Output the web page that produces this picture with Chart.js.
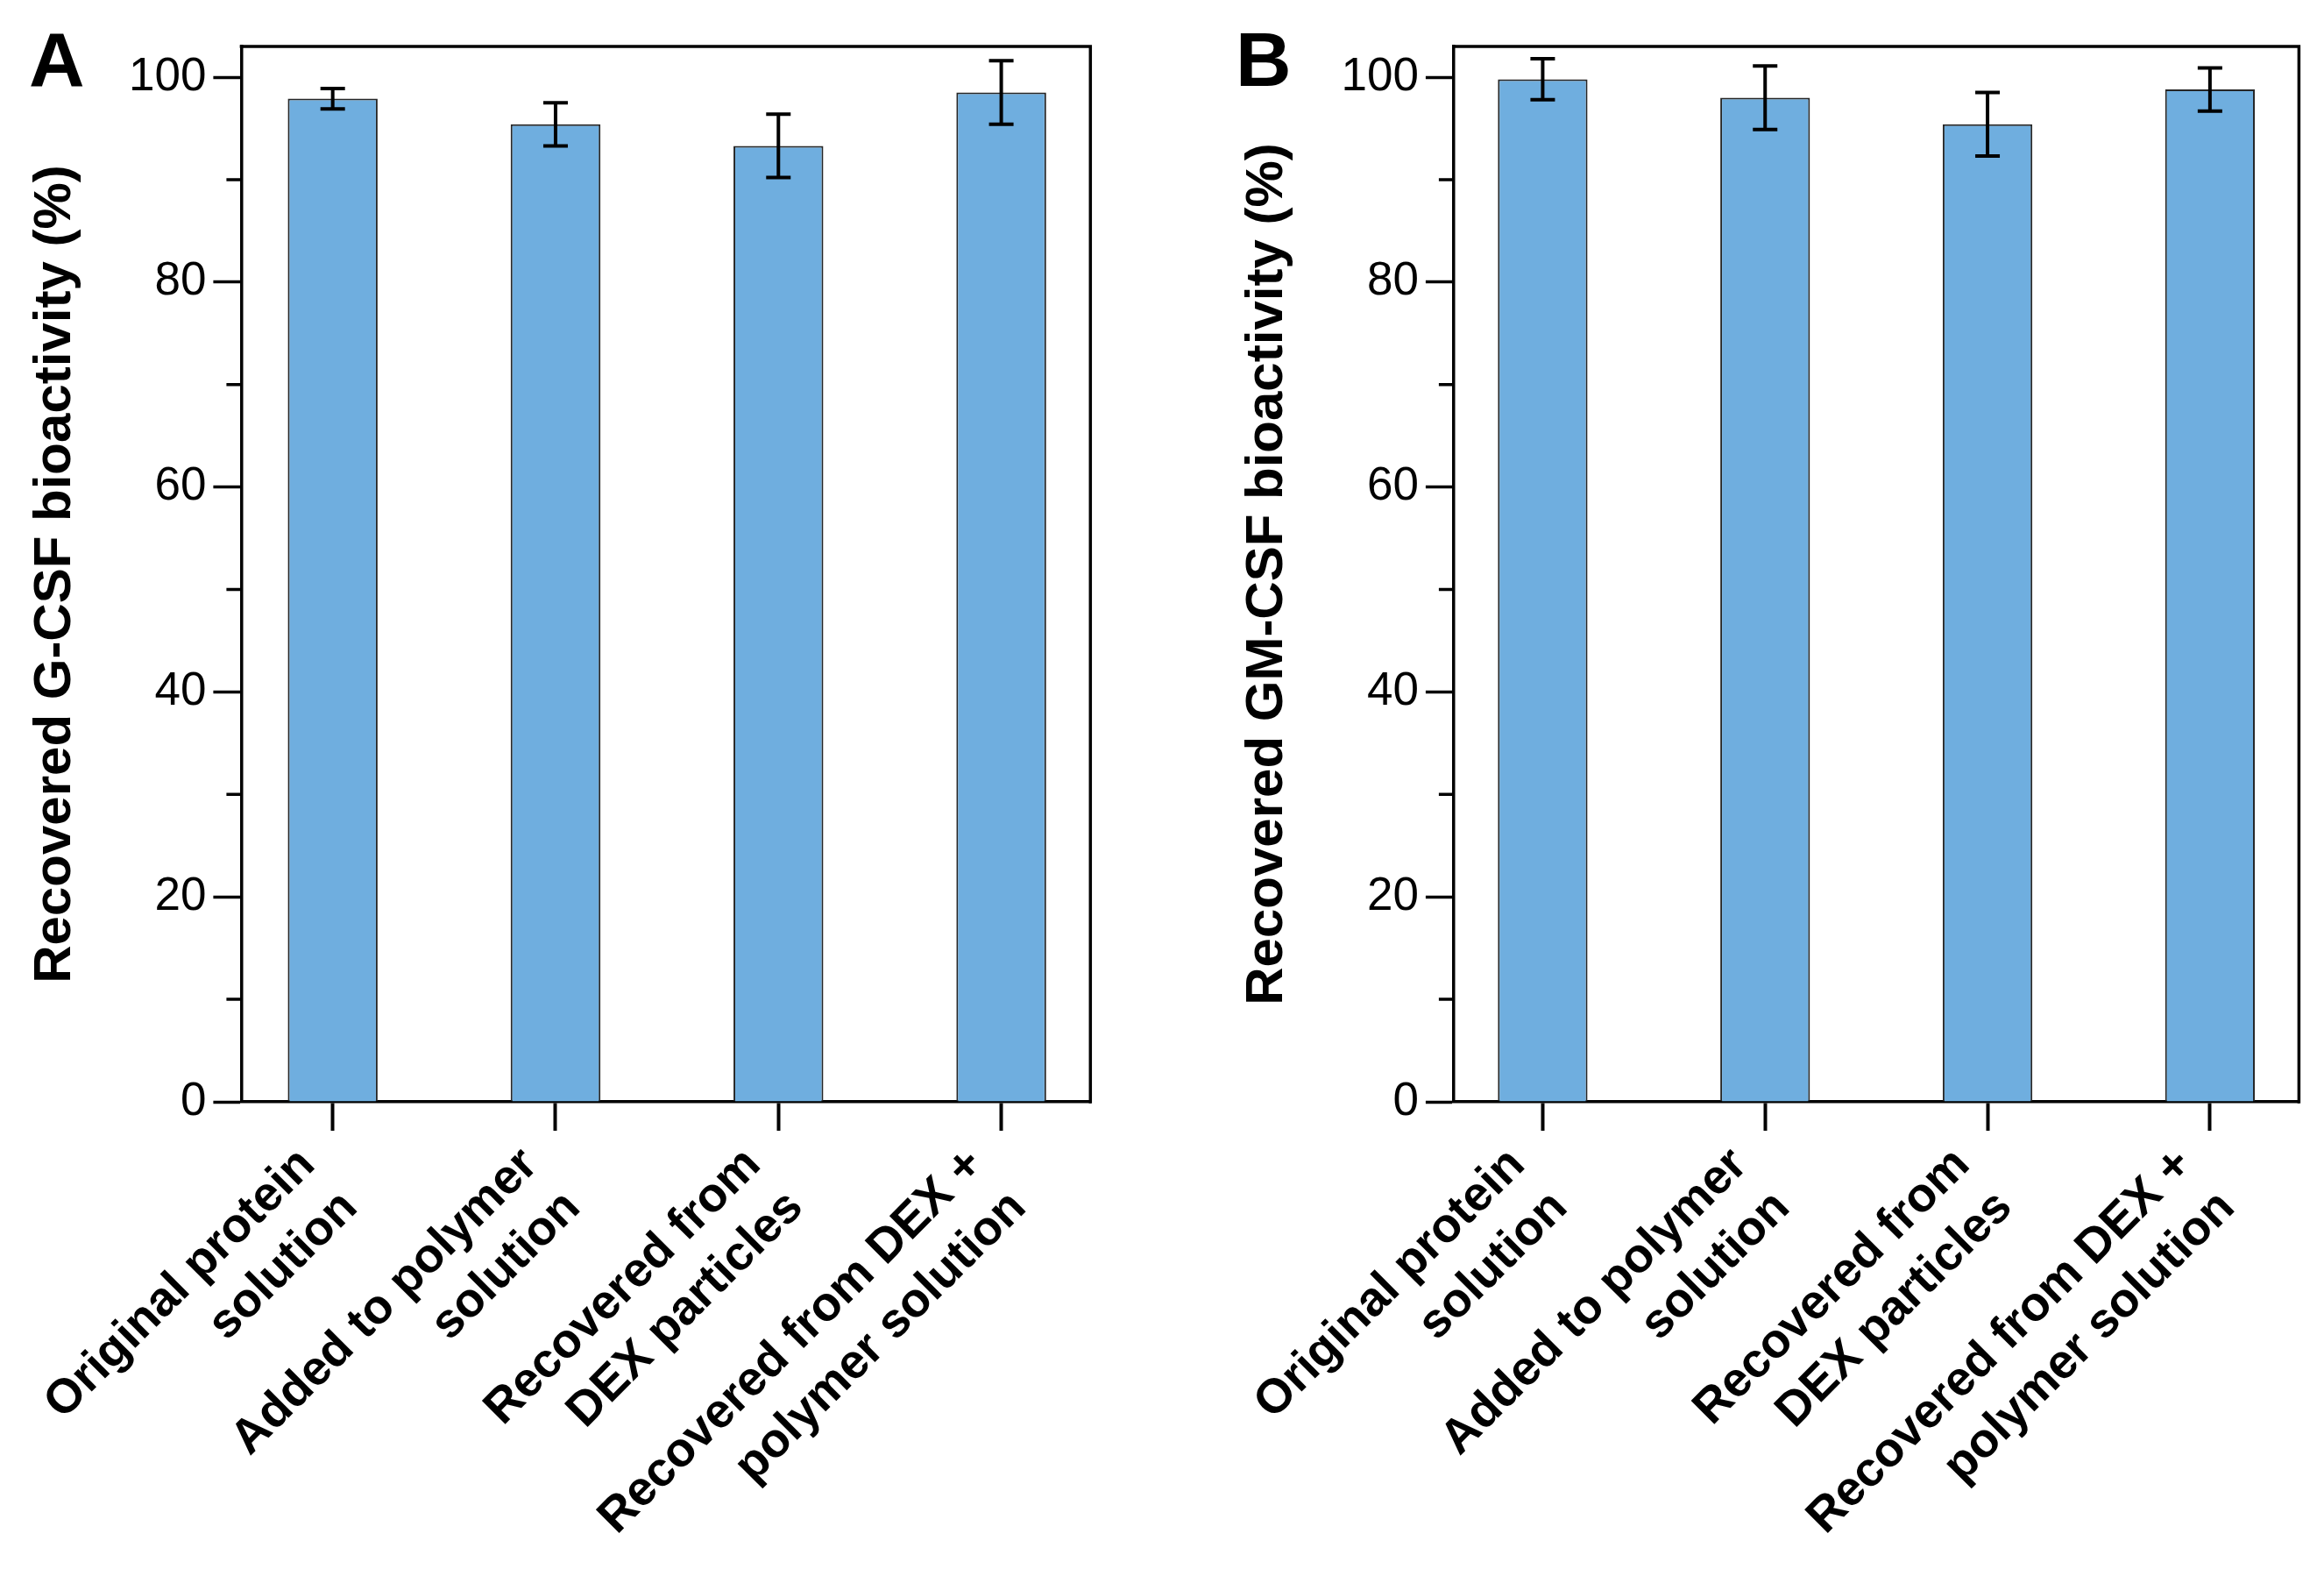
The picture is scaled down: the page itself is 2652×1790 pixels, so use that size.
<!DOCTYPE html>
<html>
<head>
<meta charset="utf-8">
<script src="https://cdn.jsdelivr.net/npm/chart.js@4.4.1/dist/chart.umd.min.js"></script>
<style>
  html, body { margin: 0; padding: 0; background: #fff; }
  #wrap { position: relative; width: 2652px; height: 1790px; }
  .panel { position: absolute; top: 0; width: 1326px; height: 1790px; }
  .letter { position: absolute; font: bold 88px "Liberation Sans", Arial, sans-serif; line-height: 88px; color: #000; }
</style>
</head>
<body>
<div id="wrap">
  <div class="panel" style="left:0"><canvas id="chartA" width="1326" height="1790"></canvas></div>
  <div class="panel" style="left:1326px"><canvas id="chartB" width="1326" height="1790"></canvas></div>
  <div class="letter" style="left:33px; top:24px">A</div>
  <div class="letter" style="left:1410px; top:24px">B</div>
</div>
<script>
// categories (multi-line tick labels)
const categories = [
  ["Original protein", "solution"],
  ["Added to polymer", "solution"],
  ["Recovered from", "DEX particles"],
  ["Recovered from DEX +", "polymer solution"]
];

// panel A: G-CSF
const gcsfValues = [97.9, 95.4, 93.3, 98.5];
const gcsfErrors = [1.0, 2.1, 3.1, 3.1];

// panel B: GM-CSF
const gmcsfValues = [99.8, 98.0, 95.4, 98.8];
const gmcsfErrors = [2.0, 3.1, 3.1, 2.1];

const yMajorTicks = [0, 20, 40, 60, 80, 100];
const yMinorTicks = [10, 30, 50, 70, 90];

const FONT = '"Liberation Sans", Arial, sans-serif';

// error bars, top/right frame and the short minor ticks
const extras = {
  id: 'extras',
  afterDatasetsDraw(chart, args, opts) {
    const ctx = chart.ctx;
    const y = chart.scales.y;
    const meta = chart.getDatasetMeta(0);
    const vals = chart.data.datasets[0].data;
    ctx.save();
    ctx.strokeStyle = '#000';
    ctx.lineWidth = 4;
    meta.data.forEach((bar, i) => {
      const v = vals[i].y, e = opts.errors[i];
      const top = y.getPixelForValue(v + e);
      const bot = y.getPixelForValue(v - e);
      ctx.beginPath();
      ctx.moveTo(bar.x, top); ctx.lineTo(bar.x, bot);
      ctx.moveTo(bar.x - 14, top); ctx.lineTo(bar.x + 14, top);
      ctx.moveTo(bar.x - 14, bot); ctx.lineTo(bar.x + 14, bot);
      ctx.stroke();
    });
    ctx.restore();
  },
  afterDraw(chart) {
    const ctx = chart.ctx;
    const a = chart.chartArea;
    const y = chart.scales.y;
    ctx.save();
    ctx.strokeStyle = '#000';
    ctx.lineWidth = 3.5;
    ctx.beginPath();
    ctx.moveTo(a.left - 1.75, a.top);
    ctx.lineTo(a.right, a.top);
    ctx.lineTo(a.right, a.bottom + 1.75);
    yMinorTicks.forEach(v => {
      const py = y.getPixelForValue(v);
      ctx.moveTo(y.right - 17, py);
      ctx.lineTo(y.right, py);
    });
    ctx.stroke();
    ctx.restore();
  }
};

function makeChart(id, values, errors, title, cfg) {
  return new Chart(document.getElementById(id), {
    type: 'bar',
    data: {
      datasets: [{
        data: values.map((v, i) => ({ x: i, y: v })),
        backgroundColor: '#6FAEDF',
        borderColor: '#262626',
        borderWidth: 2,
        barPercentage: 0.403,
        categoryPercentage: 1
      }]
    },
    options: {
      responsive: false,
      animation: false,
      devicePixelRatio: 1,
      layout: { padding: { top: 53, right: cfg.rightPad, bottom: 0, left: 0 } },
      plugins: {
        legend: { display: false },
        tooltip: { enabled: false },
        extras: { errors: errors }
      },
      scales: {
        x: {
          type: 'linear',
          min: cfg.xMin,
          max: 3.40,
          offset: false,
          z: 1,
          afterBuildTicks: s => { s.ticks = categories.map((c, i) => ({ value: i })); },
          afterFit: s => { s.height = 533; },
          grid: { offset: false, drawOnChartArea: false, drawTicks: true, tickLength: 33, tickWidth: 4, tickColor: '#000' },
          border: { display: true, color: '#000', width: 3.5 },
          ticks: {
            autoSkip: false,
            minRotation: 45,
            maxRotation: 45,
            padding: 6,
            labelOffset: -29,
            color: '#000',
            font: { family: FONT, size: 55, weight: 'bold', lineHeight: 1.25 },
            callback: v => categories[v]
          }
        },
        y: {
          min: 0,
          max: 103,
          z: 1,
          afterBuildTicks: s => { s.ticks = yMajorTicks.map(v => ({ value: v })); },
          afterFit: s => { s.width = cfg.yWidth; },
          title: {
            display: true,
            text: title,
            color: '#000',
            font: { family: FONT, size: 60, weight: 'bold', lineHeight: 1.2 },
            padding: { top: cfg.titlePad, bottom: 0 }
          },
          grid: { drawOnChartArea: false, drawTicks: true, tickLength: 32, tickWidth: 3.5, tickColor: '#000' },
          border: { display: true, color: '#000', width: 3.5 },
          ticks: { color: '#000', padding: 8, font: { family: FONT, size: 53 } }
        }
      }
    },
    plugins: [extras]
  });
}

makeChart('chartA', gcsfValues, gcsfErrors, 'Recovered G-CSF bioactivity (%)',
  { yWidth: 275.4, rightPad: 81.7, titlePad: 27, xMin: -0.41 });
makeChart('chartB', gmcsfValues, gmcsfErrors, 'Recovered GM-CSF bioactivity (%)',
  { yWidth: 332.9, rightPad: 28.6, titlePad: 84, xMin: -0.40 });
</script>
</body>
</html>
